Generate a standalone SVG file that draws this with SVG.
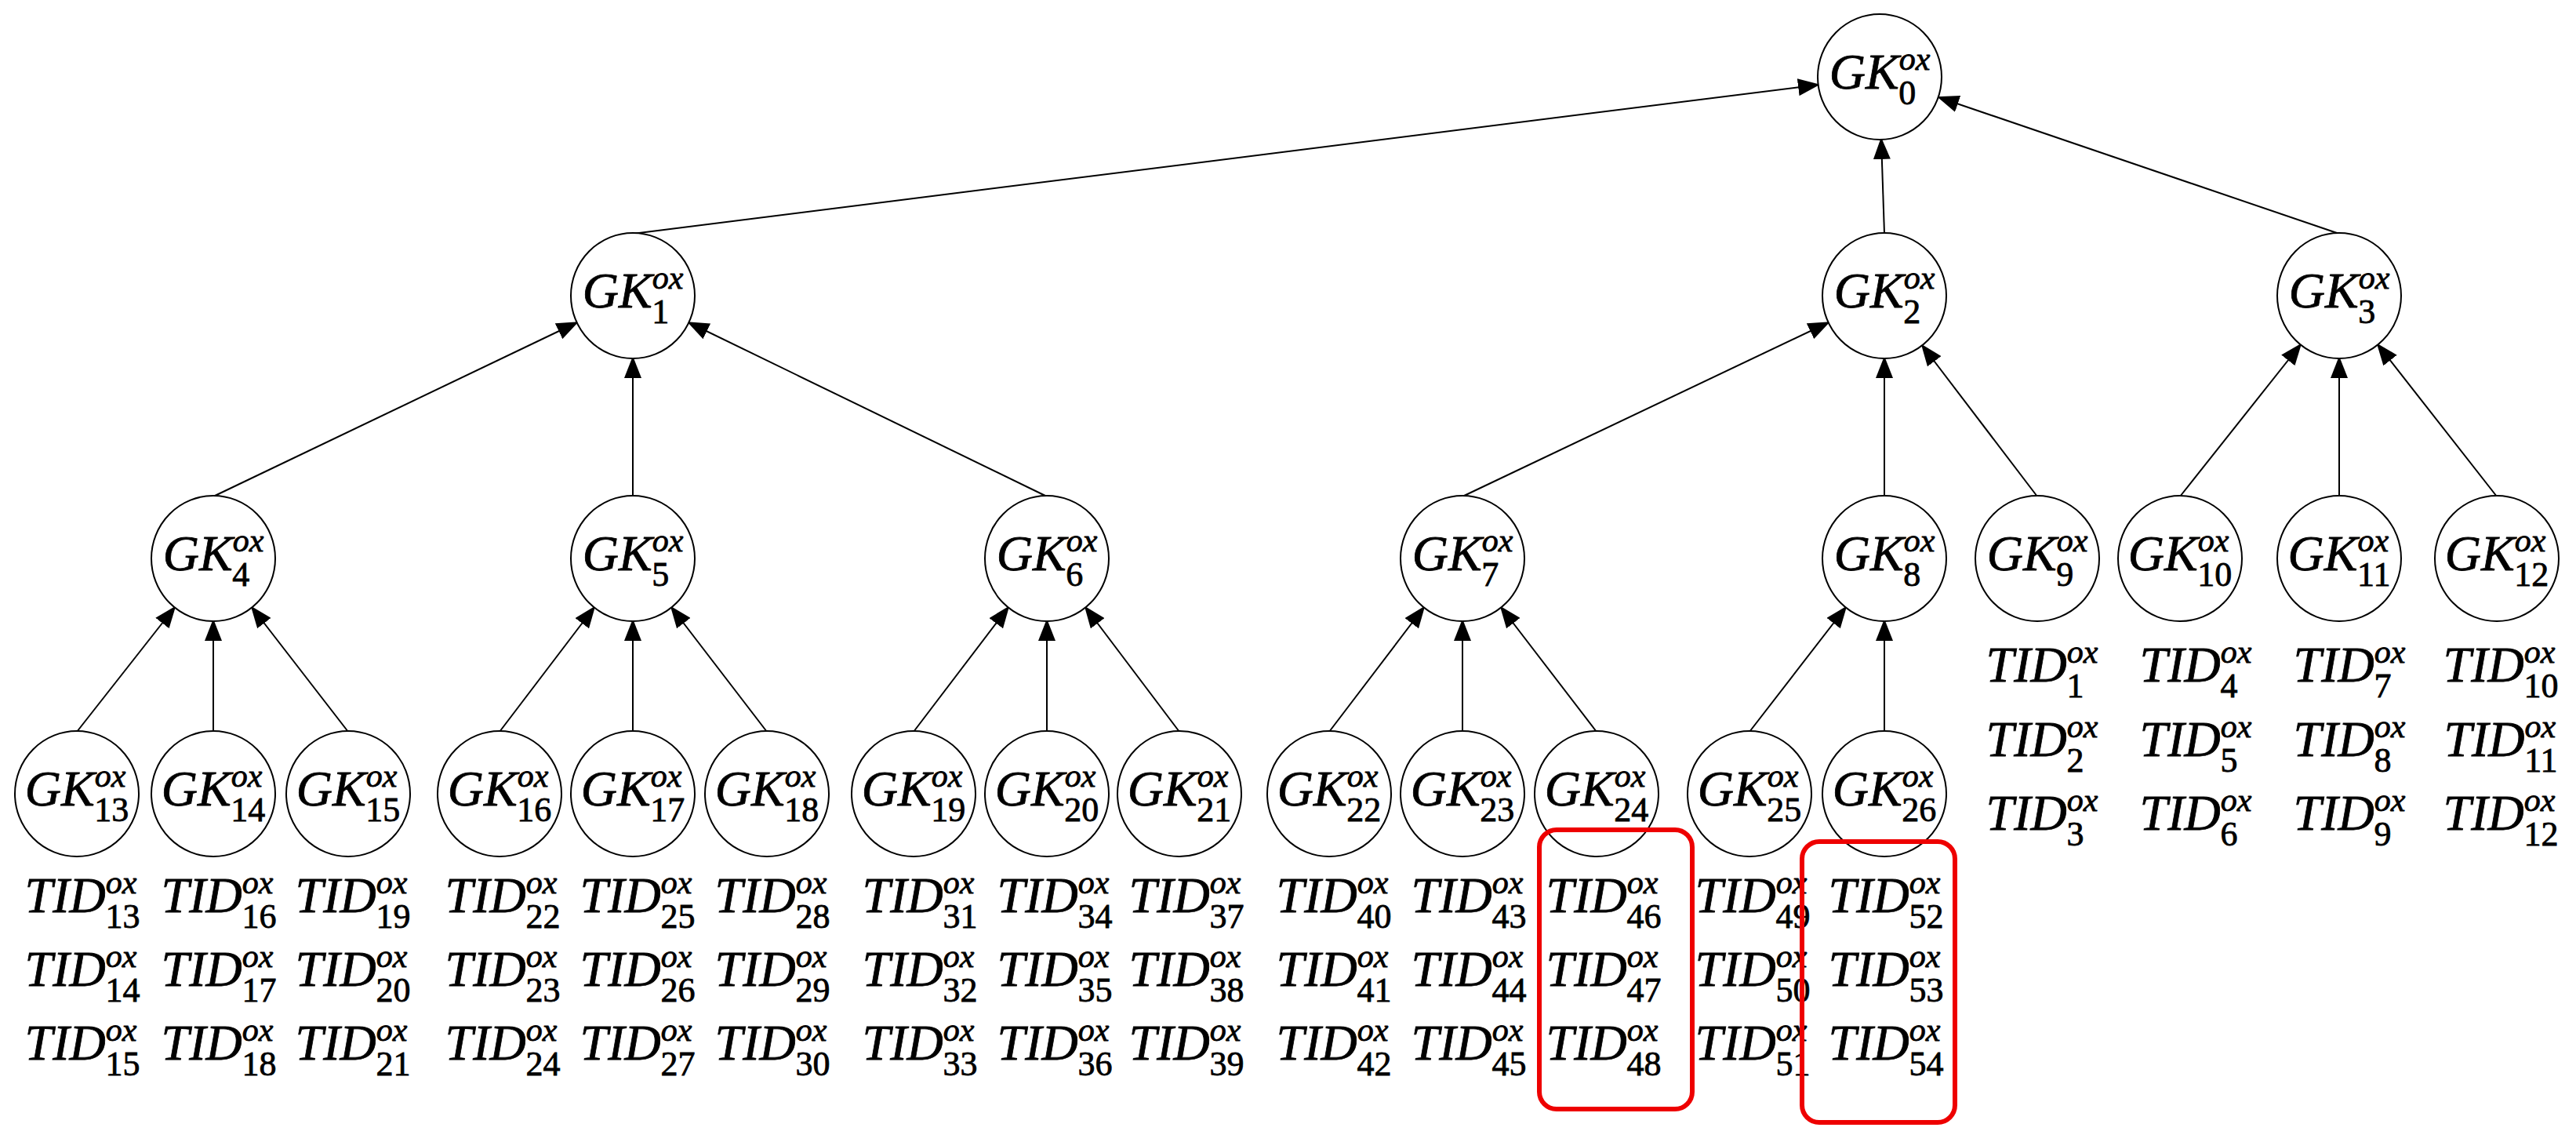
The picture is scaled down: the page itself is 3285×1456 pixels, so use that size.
<svg xmlns="http://www.w3.org/2000/svg" width="3285" height="1456" viewBox="0 0 3285 1456">
<style>
.n{fill:#fff;stroke:#000;stroke-width:2}
.t{font-family:"Liberation Serif",serif;font-style:italic;font-size:64px;fill:#000;stroke:#000;stroke-width:0.8;text-anchor:middle}
.p{font-size:42px}
.s{font-size:44px;font-style:normal}
.e{stroke:#000;stroke-width:2;fill:none;marker-end:url(#a)}
.r{fill:none;stroke:#e00;stroke-width:6}
</style>
<defs><marker id="a" markerUnits="userSpaceOnUse" markerWidth="28" markerHeight="22" refX="26" refY="11" orient="auto"><path d="M0,0 L28,11 L0,22 z" fill="#000"/></marker></defs>
<rect width="3285" height="1456" fill="#fff"/>
<g id="edges">
<line class="e" x1="807" y1="298" x2="2319" y2="108"/>
<line class="e" x1="2403" y1="298" x2="2399" y2="177"/>
<line class="e" x1="2983" y1="298" x2="2472" y2="124"/>
<line class="e" x1="272" y1="633" x2="736" y2="411"/>
<line class="e" x1="807" y1="633" x2="807" y2="456"/>
<line class="e" x1="1335" y1="633" x2="878" y2="411"/>
<line class="e" x1="1865" y1="633" x2="2332" y2="411"/>
<line class="e" x1="2403" y1="633" x2="2403" y2="456"/>
<line class="e" x1="2598" y1="633" x2="2451" y2="440"/>
<line class="e" x1="2780" y1="633" x2="2934" y2="439"/>
<line class="e" x1="2983" y1="633" x2="2983" y2="456"/>
<line class="e" x1="3184" y1="633" x2="3032" y2="439"/>
<line class="e" x1="98" y1="933" x2="223" y2="774"/>
<line class="e" x1="272" y1="933" x2="272" y2="791"/>
<line class="e" x1="444" y1="933" x2="321" y2="774"/>
<line class="e" x1="637" y1="933" x2="758" y2="774"/>
<line class="e" x1="807" y1="933" x2="807" y2="791"/>
<line class="e" x1="978" y1="933" x2="856" y2="774"/>
<line class="e" x1="1165" y1="933" x2="1286" y2="774"/>
<line class="e" x1="1335" y1="933" x2="1335" y2="791"/>
<line class="e" x1="1504" y1="933" x2="1384" y2="774"/>
<line class="e" x1="1695" y1="933" x2="1816" y2="774"/>
<line class="e" x1="1865" y1="933" x2="1865" y2="791"/>
<line class="e" x1="2036" y1="933" x2="1914" y2="774"/>
<line class="e" x1="2231" y1="933" x2="2354" y2="774"/>
<line class="e" x1="2403" y1="933" x2="2403" y2="791"/>
</g>
<g id="GK0"><ellipse class="n" cx="2397" cy="98" rx="79" ry="80"/><text class="t" x="2397" y="113">GK<tspan class="p" dy="-24">ox</tspan><tspan class="s" dx="-40" dy="44">0</tspan></text></g>
<g id="GK1"><ellipse class="n" cx="807" cy="377" rx="79" ry="80"/><text class="t" x="807" y="392">GK<tspan class="p" dy="-24">ox</tspan><tspan class="s" dx="-40" dy="44">1</tspan></text></g>
<g id="GK2"><ellipse class="n" cx="2403" cy="377" rx="79" ry="80"/><text class="t" x="2403" y="392">GK<tspan class="p" dy="-24">ox</tspan><tspan class="s" dx="-40" dy="44">2</tspan></text></g>
<g id="GK3"><ellipse class="n" cx="2983" cy="377" rx="79" ry="80"/><text class="t" x="2983" y="392">GK<tspan class="p" dy="-24">ox</tspan><tspan class="s" dx="-40" dy="44">3</tspan></text></g>
<g id="GK4"><ellipse class="n" cx="272" cy="712" rx="79" ry="80"/><text class="t" x="272" y="727">GK<tspan class="p" dy="-24">ox</tspan><tspan class="s" dx="-40" dy="44">4</tspan></text></g>
<g id="GK5"><ellipse class="n" cx="807" cy="712" rx="79" ry="80"/><text class="t" x="807" y="727">GK<tspan class="p" dy="-24">ox</tspan><tspan class="s" dx="-40" dy="44">5</tspan></text></g>
<g id="GK6"><ellipse class="n" cx="1335" cy="712" rx="79" ry="80"/><text class="t" x="1335" y="727">GK<tspan class="p" dy="-24">ox</tspan><tspan class="s" dx="-40" dy="44">6</tspan></text></g>
<g id="GK7"><ellipse class="n" cx="1865" cy="712" rx="79" ry="80"/><text class="t" x="1865" y="727">GK<tspan class="p" dy="-24">ox</tspan><tspan class="s" dx="-40" dy="44">7</tspan></text></g>
<g id="GK8"><ellipse class="n" cx="2403" cy="712" rx="79" ry="80"/><text class="t" x="2403" y="727">GK<tspan class="p" dy="-24">ox</tspan><tspan class="s" dx="-40" dy="44">8</tspan></text></g>
<g id="GK9"><ellipse class="n" cx="2598" cy="712" rx="79" ry="80"/><text class="t" x="2598" y="727">GK<tspan class="p" dy="-24">ox</tspan><tspan class="s" dx="-40" dy="44">9</tspan></text></g>
<g id="GK10"><ellipse class="n" cx="2780" cy="712" rx="79" ry="80"/><text class="t" x="2780" y="727">GK<tspan class="p" dy="-24">ox</tspan><tspan class="s" dx="-40" dy="44">10</tspan></text></g>
<g id="GK11"><ellipse class="n" cx="2983" cy="712" rx="79" ry="80"/><text class="t" x="2983" y="727">GK<tspan class="p" dy="-24">ox</tspan><tspan class="s" dx="-40" dy="44">11</tspan></text></g>
<g id="GK12"><ellipse class="n" cx="3184" cy="712" rx="79" ry="80"/><text class="t" x="3184" y="727">GK<tspan class="p" dy="-24">ox</tspan><tspan class="s" dx="-40" dy="44">12</tspan></text></g>
<g id="GK13"><ellipse class="n" cx="98" cy="1012" rx="79" ry="80"/><text class="t" x="98" y="1027">GK<tspan class="p" dy="-24">ox</tspan><tspan class="s" dx="-40" dy="44">13</tspan></text></g>
<g id="GK14"><ellipse class="n" cx="272" cy="1012" rx="79" ry="80"/><text class="t" x="272" y="1027">GK<tspan class="p" dy="-24">ox</tspan><tspan class="s" dx="-40" dy="44">14</tspan></text></g>
<g id="GK15"><ellipse class="n" cx="444" cy="1012" rx="79" ry="80"/><text class="t" x="444" y="1027">GK<tspan class="p" dy="-24">ox</tspan><tspan class="s" dx="-40" dy="44">15</tspan></text></g>
<g id="GK16"><ellipse class="n" cx="637" cy="1012" rx="79" ry="80"/><text class="t" x="637" y="1027">GK<tspan class="p" dy="-24">ox</tspan><tspan class="s" dx="-40" dy="44">16</tspan></text></g>
<g id="GK17"><ellipse class="n" cx="807" cy="1012" rx="79" ry="80"/><text class="t" x="807" y="1027">GK<tspan class="p" dy="-24">ox</tspan><tspan class="s" dx="-40" dy="44">17</tspan></text></g>
<g id="GK18"><ellipse class="n" cx="978" cy="1012" rx="79" ry="80"/><text class="t" x="978" y="1027">GK<tspan class="p" dy="-24">ox</tspan><tspan class="s" dx="-40" dy="44">18</tspan></text></g>
<g id="GK19"><ellipse class="n" cx="1165" cy="1012" rx="79" ry="80"/><text class="t" x="1165" y="1027">GK<tspan class="p" dy="-24">ox</tspan><tspan class="s" dx="-40" dy="44">19</tspan></text></g>
<g id="GK20"><ellipse class="n" cx="1335" cy="1012" rx="79" ry="80"/><text class="t" x="1335" y="1027">GK<tspan class="p" dy="-24">ox</tspan><tspan class="s" dx="-40" dy="44">20</tspan></text></g>
<g id="GK21"><ellipse class="n" cx="1504" cy="1012" rx="79" ry="80"/><text class="t" x="1504" y="1027">GK<tspan class="p" dy="-24">ox</tspan><tspan class="s" dx="-40" dy="44">21</tspan></text></g>
<g id="GK22"><ellipse class="n" cx="1695" cy="1012" rx="79" ry="80"/><text class="t" x="1695" y="1027">GK<tspan class="p" dy="-24">ox</tspan><tspan class="s" dx="-40" dy="44">22</tspan></text></g>
<g id="GK23"><ellipse class="n" cx="1865" cy="1012" rx="79" ry="80"/><text class="t" x="1865" y="1027">GK<tspan class="p" dy="-24">ox</tspan><tspan class="s" dx="-40" dy="44">23</tspan></text></g>
<g id="GK24"><ellipse class="n" cx="2036" cy="1012" rx="79" ry="80"/><text class="t" x="2036" y="1027">GK<tspan class="p" dy="-24">ox</tspan><tspan class="s" dx="-40" dy="44">24</tspan></text></g>
<g id="GK25"><ellipse class="n" cx="2231" cy="1012" rx="79" ry="80"/><text class="t" x="2231" y="1027">GK<tspan class="p" dy="-24">ox</tspan><tspan class="s" dx="-40" dy="44">25</tspan></text></g>
<g id="GK26"><ellipse class="n" cx="2403" cy="1012" rx="79" ry="80"/><text class="t" x="2403" y="1027">GK<tspan class="p" dy="-24">ox</tspan><tspan class="s" dx="-40" dy="44">26</tspan></text></g>
<g id="tids">
<text class="t" x="105" y="1163">TID<tspan class="p" dy="-24">ox</tspan><tspan class="s" dx="-40" dy="44">13</tspan></text>
<text class="t" x="105" y="1257">TID<tspan class="p" dy="-24">ox</tspan><tspan class="s" dx="-40" dy="44">14</tspan></text>
<text class="t" x="105" y="1351">TID<tspan class="p" dy="-24">ox</tspan><tspan class="s" dx="-40" dy="44">15</tspan></text>
<text class="t" x="279" y="1163">TID<tspan class="p" dy="-24">ox</tspan><tspan class="s" dx="-40" dy="44">16</tspan></text>
<text class="t" x="279" y="1257">TID<tspan class="p" dy="-24">ox</tspan><tspan class="s" dx="-40" dy="44">17</tspan></text>
<text class="t" x="279" y="1351">TID<tspan class="p" dy="-24">ox</tspan><tspan class="s" dx="-40" dy="44">18</tspan></text>
<text class="t" x="450" y="1163">TID<tspan class="p" dy="-24">ox</tspan><tspan class="s" dx="-40" dy="44">19</tspan></text>
<text class="t" x="450" y="1257">TID<tspan class="p" dy="-24">ox</tspan><tspan class="s" dx="-40" dy="44">20</tspan></text>
<text class="t" x="450" y="1351">TID<tspan class="p" dy="-24">ox</tspan><tspan class="s" dx="-40" dy="44">21</tspan></text>
<text class="t" x="641" y="1163">TID<tspan class="p" dy="-24">ox</tspan><tspan class="s" dx="-40" dy="44">22</tspan></text>
<text class="t" x="641" y="1257">TID<tspan class="p" dy="-24">ox</tspan><tspan class="s" dx="-40" dy="44">23</tspan></text>
<text class="t" x="641" y="1351">TID<tspan class="p" dy="-24">ox</tspan><tspan class="s" dx="-40" dy="44">24</tspan></text>
<text class="t" x="813" y="1163">TID<tspan class="p" dy="-24">ox</tspan><tspan class="s" dx="-40" dy="44">25</tspan></text>
<text class="t" x="813" y="1257">TID<tspan class="p" dy="-24">ox</tspan><tspan class="s" dx="-40" dy="44">26</tspan></text>
<text class="t" x="813" y="1351">TID<tspan class="p" dy="-24">ox</tspan><tspan class="s" dx="-40" dy="44">27</tspan></text>
<text class="t" x="985" y="1163">TID<tspan class="p" dy="-24">ox</tspan><tspan class="s" dx="-40" dy="44">28</tspan></text>
<text class="t" x="985" y="1257">TID<tspan class="p" dy="-24">ox</tspan><tspan class="s" dx="-40" dy="44">29</tspan></text>
<text class="t" x="985" y="1351">TID<tspan class="p" dy="-24">ox</tspan><tspan class="s" dx="-40" dy="44">30</tspan></text>
<text class="t" x="1173" y="1163">TID<tspan class="p" dy="-24">ox</tspan><tspan class="s" dx="-40" dy="44">31</tspan></text>
<text class="t" x="1173" y="1257">TID<tspan class="p" dy="-24">ox</tspan><tspan class="s" dx="-40" dy="44">32</tspan></text>
<text class="t" x="1173" y="1351">TID<tspan class="p" dy="-24">ox</tspan><tspan class="s" dx="-40" dy="44">33</tspan></text>
<text class="t" x="1345" y="1163">TID<tspan class="p" dy="-24">ox</tspan><tspan class="s" dx="-40" dy="44">34</tspan></text>
<text class="t" x="1345" y="1257">TID<tspan class="p" dy="-24">ox</tspan><tspan class="s" dx="-40" dy="44">35</tspan></text>
<text class="t" x="1345" y="1351">TID<tspan class="p" dy="-24">ox</tspan><tspan class="s" dx="-40" dy="44">36</tspan></text>
<text class="t" x="1513" y="1163">TID<tspan class="p" dy="-24">ox</tspan><tspan class="s" dx="-40" dy="44">37</tspan></text>
<text class="t" x="1513" y="1257">TID<tspan class="p" dy="-24">ox</tspan><tspan class="s" dx="-40" dy="44">38</tspan></text>
<text class="t" x="1513" y="1351">TID<tspan class="p" dy="-24">ox</tspan><tspan class="s" dx="-40" dy="44">39</tspan></text>
<text class="t" x="1701" y="1163">TID<tspan class="p" dy="-24">ox</tspan><tspan class="s" dx="-40" dy="44">40</tspan></text>
<text class="t" x="1701" y="1257">TID<tspan class="p" dy="-24">ox</tspan><tspan class="s" dx="-40" dy="44">41</tspan></text>
<text class="t" x="1701" y="1351">TID<tspan class="p" dy="-24">ox</tspan><tspan class="s" dx="-40" dy="44">42</tspan></text>
<text class="t" x="1873" y="1163">TID<tspan class="p" dy="-24">ox</tspan><tspan class="s" dx="-40" dy="44">43</tspan></text>
<text class="t" x="1873" y="1257">TID<tspan class="p" dy="-24">ox</tspan><tspan class="s" dx="-40" dy="44">44</tspan></text>
<text class="t" x="1873" y="1351">TID<tspan class="p" dy="-24">ox</tspan><tspan class="s" dx="-40" dy="44">45</tspan></text>
<text class="t" x="2045" y="1163">TID<tspan class="p" dy="-24">ox</tspan><tspan class="s" dx="-40" dy="44">46</tspan></text>
<text class="t" x="2045" y="1257">TID<tspan class="p" dy="-24">ox</tspan><tspan class="s" dx="-40" dy="44">47</tspan></text>
<text class="t" x="2045" y="1351">TID<tspan class="p" dy="-24">ox</tspan><tspan class="s" dx="-40" dy="44">48</tspan></text>
<text class="t" x="2235" y="1163">TID<tspan class="p" dy="-24">ox</tspan><tspan class="s" dx="-40" dy="44">49</tspan></text>
<text class="t" x="2235" y="1257">TID<tspan class="p" dy="-24">ox</tspan><tspan class="s" dx="-40" dy="44">50</tspan></text>
<text class="t" x="2235" y="1351">TID<tspan class="p" dy="-24">ox</tspan><tspan class="s" dx="-40" dy="44">51</tspan></text>
<text class="t" x="2405" y="1163">TID<tspan class="p" dy="-24">ox</tspan><tspan class="s" dx="-40" dy="44">52</tspan></text>
<text class="t" x="2405" y="1257">TID<tspan class="p" dy="-24">ox</tspan><tspan class="s" dx="-40" dy="44">53</tspan></text>
<text class="t" x="2405" y="1351">TID<tspan class="p" dy="-24">ox</tspan><tspan class="s" dx="-40" dy="44">54</tspan></text>
<text class="t" x="2604" y="869">TID<tspan class="p" dy="-24">ox</tspan><tspan class="s" dx="-40" dy="44">1</tspan></text>
<text class="t" x="2604" y="964">TID<tspan class="p" dy="-24">ox</tspan><tspan class="s" dx="-40" dy="44">2</tspan></text>
<text class="t" x="2604" y="1058">TID<tspan class="p" dy="-24">ox</tspan><tspan class="s" dx="-40" dy="44">3</tspan></text>
<text class="t" x="2800" y="869">TID<tspan class="p" dy="-24">ox</tspan><tspan class="s" dx="-40" dy="44">4</tspan></text>
<text class="t" x="2800" y="964">TID<tspan class="p" dy="-24">ox</tspan><tspan class="s" dx="-40" dy="44">5</tspan></text>
<text class="t" x="2800" y="1058">TID<tspan class="p" dy="-24">ox</tspan><tspan class="s" dx="-40" dy="44">6</tspan></text>
<text class="t" x="2996" y="869">TID<tspan class="p" dy="-24">ox</tspan><tspan class="s" dx="-40" dy="44">7</tspan></text>
<text class="t" x="2996" y="964">TID<tspan class="p" dy="-24">ox</tspan><tspan class="s" dx="-40" dy="44">8</tspan></text>
<text class="t" x="2996" y="1058">TID<tspan class="p" dy="-24">ox</tspan><tspan class="s" dx="-40" dy="44">9</tspan></text>
<text class="t" x="3189" y="869">TID<tspan class="p" dy="-24">ox</tspan><tspan class="s" dx="-40" dy="44">10</tspan></text>
<text class="t" x="3189" y="964">TID<tspan class="p" dy="-24">ox</tspan><tspan class="s" dx="-40" dy="44">11</tspan></text>
<text class="t" x="3189" y="1058">TID<tspan class="p" dy="-24">ox</tspan><tspan class="s" dx="-40" dy="44">12</tspan></text>
</g>
<g id="highlights">
<rect class="r" x="1963" y="1058" width="195" height="356" rx="22"/>
<rect class="r" x="2298" y="1073" width="195" height="358" rx="22"/>
</g>
</svg>
